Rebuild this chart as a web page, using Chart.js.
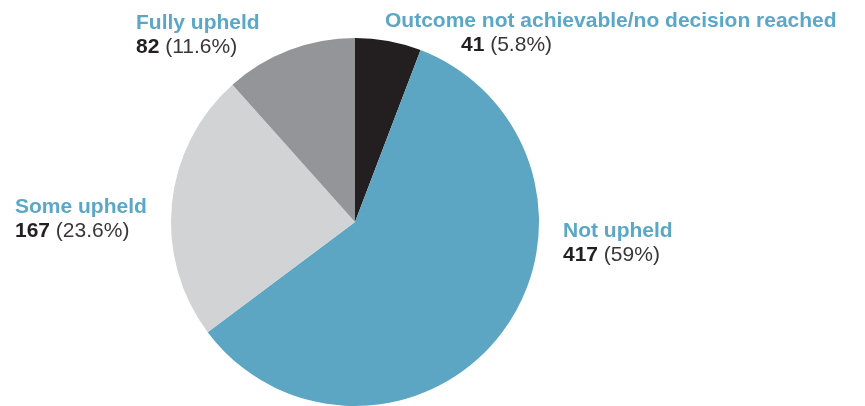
<!DOCTYPE html>
<html>
<head>
<meta charset="utf-8">
<script src="https://cdn.jsdelivr.net/npm/chart.js@4.4.1/dist/chart.umd.min.js"></script>
<style>
  html, body { margin: 0; padding: 0; background: #ffffff; }
  #wrap { position: relative; width: 865px; height: 406px; }
</style>
</head>
<body>
<div id="wrap"><canvas id="pie"></canvas></div>
<script>
// Complaint outcomes, clockwise from 12 o'clock
const categories = [
  'Outcome not achievable/no decision reached',
  'Not upheld',
  'Some upheld',
  'Fully upheld'
];
const counts = [41, 417, 167, 82];
const percentLabels = ['5.8%', '59%', '23.6%', '11.6%'];

const sliceColors = ['#231f20', '#5ca6c4', '#d1d3d4', '#939598'];

// Where each outcome's caption sits (left x, baseline of first line)
const captionPlacement = [
  { x: 385, y: 27 },
  { x: 563, y: 237 },
  { x: 15,  y: 213 },
  { x: 136, y: 29 }
];
// second-line x when it differs from the caption's left edge
const valueLineX = [461, 563, 15, 136];

const captionsPlugin = {
  id: 'captions',
  afterDraw(chart) {
    const ctx = chart.ctx;
    ctx.save();
    ctx.textBaseline = 'alphabetic';
    ctx.textAlign = 'left';
    categories.forEach((name, i) => {
      const p = captionPlacement[i];
      ctx.font = 'bold 21px "Liberation Sans", Arial, sans-serif';
      ctx.fillStyle = '#5aa7c7';
      ctx.fillText(name, p.x, p.y);

      const y2 = p.y + 24;
      let x2 = valueLineX[i];
      ctx.font = 'bold 21px "Liberation Sans", Arial, sans-serif';
      ctx.fillStyle = '#231f20';
      const num = String(counts[i]);
      ctx.fillText(num, x2, y2);
      x2 += ctx.measureText(num + ' ').width;
      ctx.font = '21px "Liberation Sans", Arial, sans-serif';
      ctx.fillStyle = '#3a3637';
      ctx.fillText('(' + percentLabels[i] + ')', x2, y2);
    });
    ctx.restore();
  }
};

new Chart(document.getElementById('pie'), {
  type: 'pie',
  data: {
    labels: categories,
    datasets: [{
      data: counts,
      backgroundColor: sliceColors,
      borderWidth: 0
    }]
  },
  options: {
    responsive: true,
    maintainAspectRatio: false,
    animation: false,
    layout: { padding: { left: 171, right: 326, top: 38, bottom: 0 } },
    plugins: {
      legend: { display: false },
      tooltip: { enabled: false }
    }
  },
  plugins: [captionsPlugin]
});
</script>
</body>
</html>
